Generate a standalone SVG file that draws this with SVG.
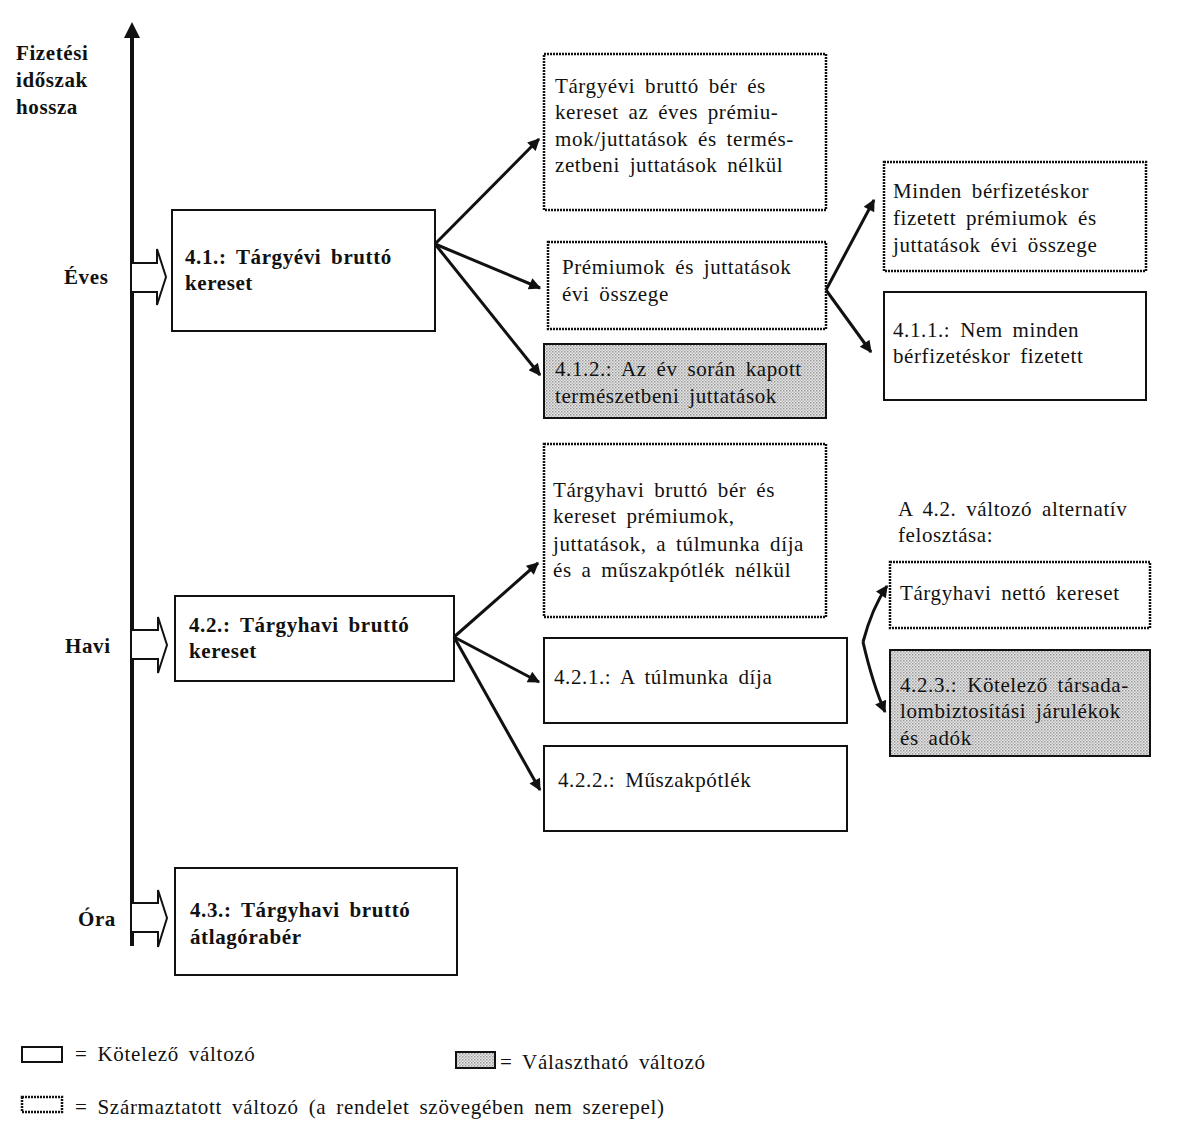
<svg xmlns="http://www.w3.org/2000/svg" width="1192" height="1143" viewBox="0 0 1192 1143">
<style>
text{font-family:"Liberation Serif","Times New Roman",serif;font-size:21px;fill:#111;word-spacing:4px;letter-spacing:0.6px}
.b{font-weight:bold}
.lg{font-size:21px;letter-spacing:0.7px}
.solid{fill:#fff;stroke:#111;stroke-width:2}
.dot{fill:#fff;stroke:#111;stroke-width:2.5;stroke-dasharray:2 1}
.hat{fill:url(#hatch);stroke:#111;stroke-width:2}
.con{fill:none;stroke:#111;stroke-width:3;marker-end:url(#ah)}
.blk{fill:#fff;stroke:#111;stroke-width:2;stroke-linejoin:miter}
</style>
<defs>
<pattern id="hatch" width="3" height="3" patternUnits="userSpaceOnUse">
<rect width="3" height="3" fill="#e6e6e6"/>
<rect width="1.5" height="1.5" fill="#9a9a9a"/>
<rect x="1.5" y="1.5" width="1.5" height="1.5" fill="#b8b8b8"/>
</pattern>
<marker id="ah" viewBox="0 0 10 10" refX="9" refY="5" markerWidth="5" markerHeight="4" orient="auto" markerUnits="strokeWidth">
<path d="M0,0 L10,5 L0,10 z" fill="#111"/>
</marker>
</defs>

<g id="axis">
<line x1="132" y1="36" x2="132" y2="946" stroke="#111" stroke-width="4"/>
<path d="M124,38 L132,22 L140,38 z" fill="#111"/>
<text class="b" x="16" y="60">Fizetési</text>
<text class="b" x="16" y="87">időszak</text>
<text class="b" x="16" y="114">hossza</text>
</g>

<g id="eves">
<path class="blk" d="M132,263 H157 V249 L166,277 L157,305 V292 H132"/>
<text class="b" x="64" y="284">Éves</text>
</g>
<g id="havi">
<path class="blk" d="M132,630 H158 V617 L167,645 L158,673 V659 H132"/>
<text class="b" x="65" y="653">Havi</text>
</g>
<g id="ora">
<path class="blk" d="M132,903 H158 V890 L167,918 L158,947 V932 H132"/>
<text class="b" x="78" y="926">Óra</text>
</g>

<g id="n41">
<rect class="solid" x="172" y="210" width="263" height="121"/>
<text class="b" x="185" y="264">4.1.: Tárgyévi bruttó</text>
<text class="b" x="185" y="290">kereset</text>
</g>
<g id="nA">
<rect class="dot" x="544" y="54" width="282" height="156"/>
<text x="555" y="93">Tárgyévi bruttó bér és</text>
<text x="555" y="119">kereset az éves prémiu-</text>
<text x="555" y="146">mok/juttatások és termés-</text>
<text x="555" y="172">zetbeni juttatások nélkül</text>
</g>
<g id="nB">
<rect class="dot" x="548" y="242" width="278" height="87"/>
<text x="562" y="274">Prémiumok és juttatások</text>
<text x="562" y="301">évi összege</text>
</g>
<g id="n412">
<rect class="hat" x="544" y="344" width="282" height="74"/>
<text x="555" y="376">4.1.2.: Az év során kapott</text>
<text x="555" y="403">természetbeni juttatások</text>
</g>
<g id="nD">
<rect class="dot" x="884" y="162" width="262" height="109"/>
<text x="893" y="198">Minden bérfizetéskor</text>
<text x="893" y="225">fizetett prémiumok és</text>
<text x="893" y="252">juttatások évi összege</text>
</g>
<g id="n411">
<rect class="solid" x="884" y="292" width="262" height="108"/>
<text x="893" y="337">4.1.1.: Nem minden</text>
<text x="893" y="363">bérfizetéskor fizetett</text>
</g>

<g id="nF">
<rect class="dot" x="544" y="444" width="282" height="173"/>
<text x="553" y="497">Tárgyhavi bruttó bér és</text>
<text x="553" y="523">kereset prémiumok,</text>
<text x="553" y="551">juttatások, a túlmunka díja</text>
<text x="553" y="577">és a műszakpótlék nélkül</text>
</g>
<g id="n42">
<rect class="solid" x="175" y="596" width="279" height="85"/>
<text class="b" x="189" y="632">4.2.: Tárgyhavi bruttó</text>
<text class="b" x="189" y="658">kereset</text>
</g>
<g id="n421">
<rect class="solid" x="544" y="638" width="303" height="85"/>
<text x="554" y="684">4.2.1.: A túlmunka díja</text>
</g>
<g id="n422">
<rect class="solid" x="544" y="746" width="303" height="85"/>
<text x="558" y="787">4.2.2.: Műszakpótlék</text>
</g>
<g id="n43">
<rect class="solid" x="175" y="868" width="282" height="107"/>
<text class="b" x="190" y="917">4.3.: Tárgyhavi bruttó</text>
<text class="b" x="190" y="944">átlagórabér</text>
</g>

<g id="alt">
<text x="898" y="516">A 4.2. változó alternatív</text>
<text x="898" y="542">felosztása:</text>
</g>
<g id="nI">
<rect class="dot" x="890" y="562" width="260" height="66"/>
<text x="900" y="600">Tárgyhavi nettó kereset</text>
</g>
<g id="n423">
<rect class="hat" x="890" y="650" width="260" height="106"/>
<text x="900" y="692">4.2.3.: Kötelező társada-</text>
<text x="900" y="718">lombiztosítási járulékok</text>
<text x="900" y="745">és adók</text>
</g>

<g id="connectors">
<line class="con" x1="435" y1="244" x2="539" y2="139"/>
<line class="con" x1="435" y1="244" x2="540" y2="288"/>
<line class="con" x1="435" y1="244" x2="540" y2="375"/>
<line class="con" x1="826" y1="290" x2="874" y2="200"/>
<line class="con" x1="826" y1="290" x2="871" y2="352"/>
<line class="con" x1="454" y1="637" x2="538" y2="563"/>
<line class="con" x1="454" y1="637" x2="539" y2="682"/>
<line class="con" x1="454" y1="637" x2="540" y2="790"/>
<path class="con" d="M863,642 Q872,608 887,586"/>
<path class="con" d="M863,642 Q873,685 885,712"/>
</g>

<g id="legend">
<rect class="solid" x="22" y="1047" width="40" height="15"/>
<text class="lg" x="75" y="1061">= Kötelező változó</text>
<rect class="hat" x="456" y="1052" width="39" height="16"/>
<text class="lg" x="500" y="1069">= Választható változó</text>
<rect class="dot" x="22" y="1097" width="40" height="15"/>
<text class="lg" x="75" y="1114">= Származtatott változó (a rendelet szövegében nem szerepel)</text>
</g>
</svg>
